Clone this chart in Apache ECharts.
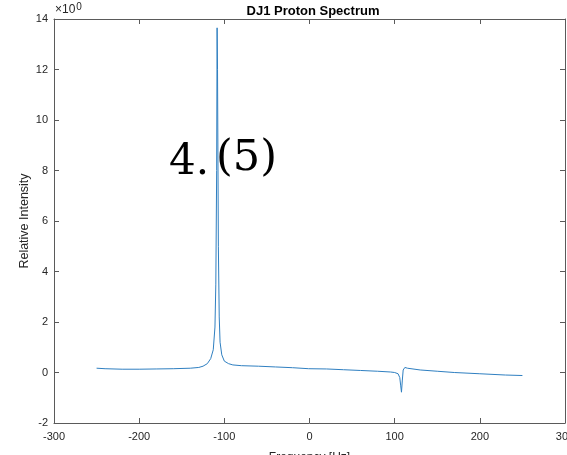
<!DOCTYPE html>
<html><head><meta charset="utf-8">
<script src="https://cdn.jsdelivr.net/npm/echarts@6/dist/echarts.min.js"></script>
<style>html,body{margin:0;padding:0;background:#fff}#c{width:567px;height:455px}</style>
</head><body><div id="c"></div>
<script>
var freq = [-250,-240,-220,-200,-180,-160,-140,-130,-125,-120,-116,-113,-111,-110,-109,-108.5,-108,-107,-106,-105,-103,-100,-95,-90,-80,-60,-40,-20,-1,0,1,20,40,60,80,95,100,104,106,107,108,109,110,112,115,130,150,170,200,230,250];
var intensity = [0.17,0.15,0.13,0.13,0.14,0.15,0.17,0.2,0.25,0.35,0.55,0.9,1.8,3.5,8,13.65,12,5,2.2,1.2,0.7,0.45,0.35,0.3,0.27,0.25,0.22,0.19,0.15,0.08,0.15,0.14,0.11,0.08,0.05,0.02,0.0,-0.05,-0.2,-0.5,-0.78,-0.3,0.1,0.2,0.17,0.1,0.05,0.0,-0.05,-0.1,-0.12];
var xTicks = {min:-300, max:300, step:100};
var yTicks = {min:-2, max:14, step:2};
var titleText = 'DJ1 Proton Spectrum';
var xName = 'Frequency [Hz]';
var yName = 'Relative Intensity';

var data = freq.map(function(f,i){return [f, intensity[i]];});
var font = '"Liberation Sans", Arial, Helvetica, sans-serif';
var axisColor = '#5a5a5a';
function axisBase(extra){
  var o = {
    type:'value', splitLine:{show:false},
    axisLine:{show:true, onZero:false, lineStyle:{color:axisColor, width:1}},
    axisTick:{show:true, inside:true, length:5, lineStyle:{color:axisColor}},
    axisLabel:{color:'#262626', fontSize:11, fontFamily:font}
  };
  for (var k in extra) o[k]=extra[k];
  return o;
}
var chart = echarts.init(document.getElementById('c'), null, {renderer:'canvas'});
chart.setOption({
  animation:false,
  backgroundColor:'#fff',
  title:{text:titleText, left:308, textAlign:'center', top:0,
    textStyle:{fontSize:13, fontWeight:'bold', color:'#000', fontFamily:font}},
  grid:{left:54, right:2, top:19, bottom:32, containLabel:false, outerBoundsMode:'none'},
  xAxis:[
    axisBase({min:xTicks.min, max:xTicks.max, interval:xTicks.step, position:'bottom',
      name:xName, nameLocation:'middle', nameGap:29, nameMoveOverlap:false,
      nameTextStyle:{fontSize:12, color:'#262626', fontFamily:font},
      axisLabel:{color:'#262626', fontSize:11, fontFamily:font, margin:8, showMaxLabel:true}}),
    axisBase({min:xTicks.min, max:xTicks.max, interval:xTicks.step, position:'top',
      axisLabel:{show:false}})
  ],
  yAxis:[
    axisBase({min:yTicks.min, max:yTicks.max, interval:yTicks.step, position:'left',
      name:yName, nameLocation:'middle', nameGap:23, nameMoveOverlap:false,
      nameTextStyle:{fontSize:12.5, color:'#262626', fontFamily:font},
      axisLabel:{color:'#262626', fontSize:11, fontFamily:font, margin:6}}),
    axisBase({min:yTicks.min, max:yTicks.max, interval:yTicks.step, position:'right',
      axisLabel:{show:false}})
  ],
  graphic:[
    {type:'text', left:55, top:2, style:{
      rich:{a:{fontSize:12, fontFamily:font, fill:'#262626'}, s:{fontSize:10, fontFamily:font, fill:'#262626', verticalAlign:'top', padding:[0,0,5,1]}},
      text:'{a|×10}{s|0}'}},
    {type:'text', left:169, top:142, style:{text:'4.', font:'42px "DejaVu Serif", serif', fill:'#000'}, z:10},
    {type:'text', left:216, top:137, style:{text:'(5)', font:'43px "DejaVu Serif", serif', fill:'#000'}, z:10}
  ],
  series:[{type:'line', data:data, showSymbol:false, xAxisIndex:0, yAxisIndex:0,
    lineStyle:{color:'#2f7fc1', width:1}, z:5}]
});
</script></body></html>
